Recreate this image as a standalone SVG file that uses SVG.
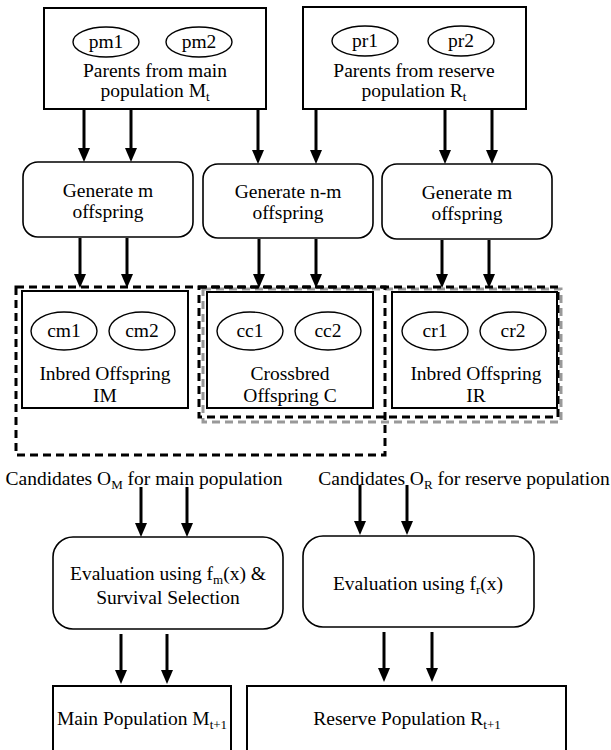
<svg xmlns="http://www.w3.org/2000/svg" width="611" height="750" viewBox="0 0 611 750">
<style>
text{font-family:"Liberation Serif","Times New Roman",serif;font-size:19.5px;fill:#000;text-anchor:middle}
.sub{font-size:13px}
.box{fill:#fff;stroke:#000;stroke-width:2}
.rbox{fill:#fff;stroke:#000;stroke-width:1.6}
.ell{fill:#fff;stroke:#000;stroke-width:1.4}
.dash{fill:none;stroke:#000;stroke-width:3;stroke-dasharray:8 5}
.gdash{fill:none;stroke:#999;stroke-width:3;stroke-dasharray:8 5}
.arr{stroke:#000;stroke-width:3;fill:none;marker-end:url(#ah)}
</style>
<defs>
<marker id="ah" markerUnits="userSpaceOnUse" markerWidth="12" markerHeight="14" viewBox="0 0 12 14" refX="6" refY="0" orient="0">
<path d="M0,0 L12,0 L6,14 z" fill="#000"/>
</marker>
</defs>
<rect width="611" height="750" fill="#fff"/>

<g id="groups">
<rect class="gdash" x="203" y="289" width="358" height="133"/>
<rect class="dash" x="16" y="287" width="369" height="168"/>
<rect class="dash" x="199" y="287" width="359" height="130"/>
</g>

<g id="pm">
<rect class="box" x="44" y="8" width="222" height="101"/>
<ellipse class="ell" cx="106" cy="42" rx="33" ry="15"/>
<text x="106" y="48">pm1</text>
<ellipse class="ell" cx="199" cy="42" rx="33" ry="15"/>
<text x="199" y="48">pm2</text>
<text x="155" y="77">Parents from main</text>
<text x="155" y="97">population M<tspan class="sub" dy="4">t</tspan></text>
</g>

<g id="pr">
<rect class="box" x="303" y="7" width="223" height="102"/>
<ellipse class="ell" cx="365" cy="41" rx="33" ry="15"/>
<text x="365" y="47">pr1</text>
<ellipse class="ell" cx="461" cy="41" rx="33" ry="15"/>
<text x="461" y="47">pr2</text>
<text x="414" y="77">Parents from reserve</text>
<text x="414" y="97">population R<tspan class="sub" dy="4">t</tspan></text>
</g>

<g id="gen1">
<rect class="rbox" x="23" y="162" width="170" height="75" rx="15"/>
<text x="108" y="197">Generate m</text>
<text x="108" y="218">offspring</text>
</g>
<g id="gen2">
<rect class="rbox" x="203" y="164" width="170" height="74" rx="15"/>
<text x="288" y="198">Generate n-m</text>
<text x="288" y="219">offspring</text>
</g>
<g id="gen3">
<rect class="rbox" x="382" y="164" width="170" height="75" rx="15"/>
<text x="467" y="199">Generate m</text>
<text x="467" y="220">offspring</text>
</g>

<g id="im">
<rect class="box" x="22" y="291" width="166" height="117"/>
<ellipse class="ell" cx="64" cy="331" rx="33" ry="19"/>
<text x="64" y="337">cm1</text>
<ellipse class="ell" cx="142" cy="331" rx="33" ry="19"/>
<text x="142" y="337">cm2</text>
<text x="105" y="380">Inbred Offspring</text>
<text x="105" y="402">IM</text>
</g>
<g id="c">
<rect class="box" x="207" y="292" width="166" height="116"/>
<ellipse class="ell" cx="250" cy="331" rx="33" ry="19"/>
<text x="250" y="337">cc1</text>
<ellipse class="ell" cx="328" cy="331" rx="33" ry="19"/>
<text x="328" y="337">cc2</text>
<text x="290" y="380">Crossbred</text>
<text x="290" y="402">Offspring C</text>
</g>
<g id="ir">
<rect class="box" x="392" y="292" width="165" height="116"/>
<ellipse class="ell" cx="435" cy="331" rx="33" ry="19"/>
<text x="435" y="337">cr1</text>
<ellipse class="ell" cx="513" cy="331" rx="33" ry="19"/>
<text x="513" y="337">cr2</text>
<text x="476" y="380">Inbred Offspring</text>
<text x="476" y="402">IR</text>
</g>

<g id="labels">
<text x="144" y="485">Candidates O<tspan class="sub" dy="4">M</tspan><tspan dy="-4"> for main population</tspan></text>
<text x="464" y="485">Candidates O<tspan class="sub" dy="4">R</tspan><tspan dy="-4"> for reserve population</tspan></text>
</g>

<g id="eval1">
<rect class="rbox" x="53" y="537" width="230" height="92" rx="20"/>
<text x="168" y="580">Evaluation using f<tspan class="sub" dy="4">m</tspan><tspan dy="-4">(x) &amp;</tspan></text>
<text x="168" y="604">Survival Selection</text>
</g>
<g id="eval2">
<rect class="rbox" x="303" y="536" width="231" height="91" rx="20"/>
<text x="418" y="590">Evaluation using f<tspan class="sub" dy="4">r</tspan><tspan dy="-4">(x)</tspan></text>
</g>

<g id="mainpop">
<rect class="box" x="53" y="686" width="178" height="80"/>
<text x="142" y="725">Main Population M<tspan class="sub" dy="4">t+1</tspan></text>
</g>
<g id="respop">
<rect class="box" x="247" y="686" width="319" height="80"/>
<text x="407" y="725">Reserve Population R<tspan class="sub" dy="4">t+1</tspan></text>
</g>

<g id="connectors">
<line class="arr" x1="84" y1="110" x2="84" y2="148"/>
<line class="arr" x1="131" y1="110" x2="131" y2="148"/>
<line class="arr" x1="258" y1="110" x2="258" y2="150"/>
<line class="arr" x1="316" y1="110" x2="316" y2="150"/>
<line class="arr" x1="445" y1="110" x2="445" y2="150"/>
<line class="arr" x1="492" y1="110" x2="492" y2="150"/>
<line class="arr" x1="80" y1="238" x2="80" y2="274"/>
<line class="arr" x1="127" y1="238" x2="127" y2="274"/>
<line class="arr" x1="259" y1="239" x2="259" y2="274"/>
<line class="arr" x1="316" y1="239" x2="316" y2="274"/>
<line class="arr" x1="442" y1="240" x2="442" y2="274"/>
<line class="arr" x1="489" y1="240" x2="489" y2="274"/>
<line class="arr" x1="141" y1="487" x2="141" y2="523"/>
<line class="arr" x1="187" y1="487" x2="187" y2="523"/>
<line class="arr" x1="360" y1="485" x2="360" y2="521"/>
<line class="arr" x1="407" y1="485" x2="407" y2="521"/>
<line class="arr" x1="121" y1="634" x2="121" y2="670"/>
<line class="arr" x1="167" y1="634" x2="167" y2="670"/>
<line class="arr" x1="384" y1="632" x2="384" y2="668"/>
<line class="arr" x1="432" y1="632" x2="432" y2="668"/>
</g>
</svg>
